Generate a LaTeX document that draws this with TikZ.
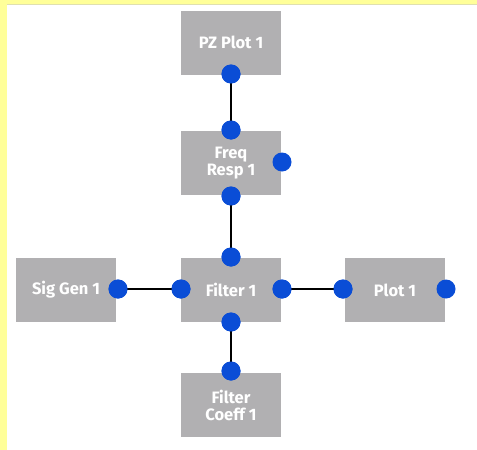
\documentclass[tikz,border=0pt]{standalone}
\usepackage{fontspec}
\setsansfont{Fira Sans}
\begin{document}
\begin{tikzpicture}[x=1pt,y=-1pt,
  block/.style={fill=boxgray, draw=none, minimum width=100pt, minimum height=64pt,
    inner sep=0pt, text=white, font=\sffamily\bfseries\fontsize{16.5}{17}\selectfont,
    align=center},
  port/.style={circle, fill=portblue, inner sep=0pt, minimum size=19pt},
  wire/.style={black, line width=1.4pt}]
\definecolor{boxgray}{HTML}{B1B0B2}
\definecolor{portblue}{HTML}{0A4DD6}
\definecolor{frame}{HTML}{FFFF99}
% canvas and yellow frame
\fill[white] (0,0) rectangle (477,450);
\useasboundingbox (0,0) rectangle (477,450);
\fill[frame] (0,0) rectangle (477,4);
\fill[frame] (0,0) rectangle (7,450);
\draw[frame!80!black!60, line width=0.6pt] (7,4.3) -- (477,4.3);
% blocks
\node[block] (pz)    at (231,42.5)  {PZ Plot 1};
\node[block] (freq)  at (231,163)   {Freq\\Resp 1};
\node[block] (filt)  at (231,290)   {Filter 1};
\node[block] (sig)   at (66,290)    {Sig Gen 1};
\node[block] (plot)  at (395,290)   {Plot 1};
\node[block] (coeff) at (231,405)   {Filter\\Coeff 1};
% ports
\node[port] (pzB)   at (231,74)  {};
\node[port] (frT)   at (231,130) {};
\node[port] (frR)   at (282,162) {};
\node[port] (frB)   at (231,196) {};
\node[port] (fiT)   at (231,257) {};
\node[port] (fiL)   at (181,289) {};
\node[port] (fiR)   at (282,289) {};
\node[port] (fiB)   at (231,322) {};
\node[port] (sgR)   at (118,289) {};
\node[port] (plL)   at (343,289) {};
\node[port] (plR)   at (446,289) {};
\node[port] (coT)   at (231,371) {};
% wires
\draw[wire] (pzB.center) -- (frT.center);
\draw[wire] (frB.center) -- (fiT.center);
\draw[wire] (sgR.center) -- (fiL.center);
\draw[wire] (fiR.center) -- (plL.center);
\draw[wire] (fiB.center) -- (coT.center);
% redraw ports over wire ends
\foreach \p in {pzB,frT,frB,fiT,fiL,fiR,fiB,sgR,plL,coT}
  \fill[portblue] (\p) circle (9.5pt);
\end{tikzpicture}
\end{document}
